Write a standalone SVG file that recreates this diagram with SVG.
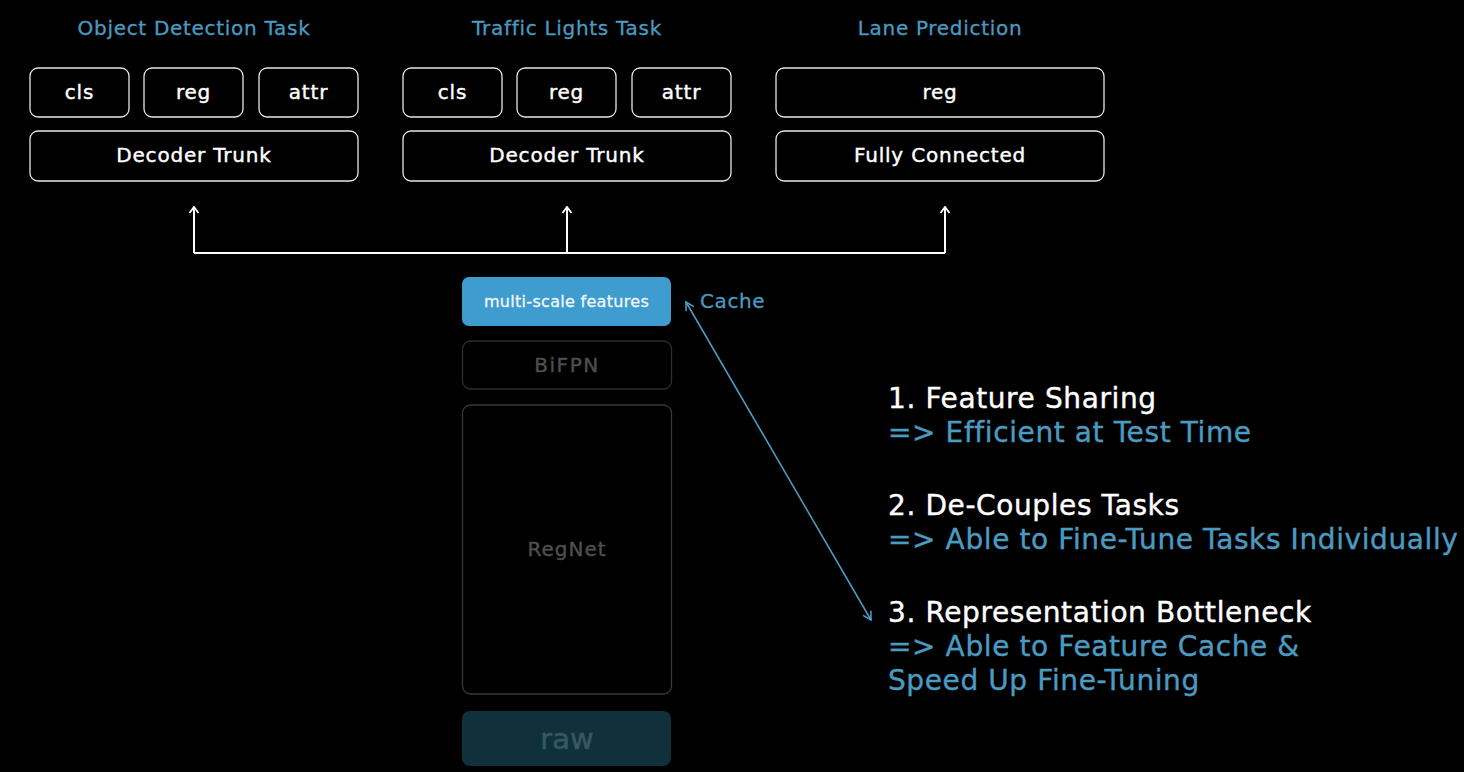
<svg xmlns="http://www.w3.org/2000/svg" width="1464" height="772" viewBox="0 0 1464 772">
<defs>
<style>
text{font-family:"DejaVu Sans","Noto Sans",sans-serif}
.title{fill:#4b9ac0;stroke:#4b9ac0;stroke-width:0.3px;font-size:20px;letter-spacing:0.7px;text-anchor:middle}
.box{fill:#000;stroke:#e6e6e6;stroke-width:1.3}
.lbl{fill:#fff;stroke:#fff;stroke-width:0.4px;font-size:20px;letter-spacing:0.8px;text-anchor:middle}
.conn{stroke:#fff;stroke-width:2;fill:none}
.pt{fill:#fff;stroke:#fff;stroke-width:0.4px;font-size:28px;letter-spacing:0.6px}
.sub{fill:#4b9ac0;stroke:#4b9ac0;stroke-width:0.4px;font-size:28px;letter-spacing:0.6px}
</style>
<marker id="wa" viewBox="0 0 12 12" refX="11" refY="6" markerWidth="12" markerHeight="12" markerUnits="userSpaceOnUse" orient="auto">
<path d="M5,1.5 L11,6 L5,10.5" fill="none" stroke="#fff" stroke-width="1.8"/>
</marker>
<marker id="ba" viewBox="0 0 12 12" refX="11" refY="6" markerWidth="12" markerHeight="12" markerUnits="userSpaceOnUse" orient="auto-start-reverse">
<path d="M3,1.5 L11,6 L3,10.5" fill="none" stroke="#4b9ac0" stroke-width="1.6"/>
</marker>
</defs>
<rect width="1464" height="772" fill="#000"/>

<g id="odt">
<text class="title" x="194" y="35">Object Detection Task</text>
<rect class="box" x="30" y="68" width="99" height="49" rx="8"/><text class="lbl" x="79.5" y="99">cls</text>
<rect class="box" x="144" y="68" width="99" height="49" rx="8"/><text class="lbl" x="193.5" y="99">reg</text>
<rect class="box" x="259" y="68" width="99" height="49" rx="8"/><text class="lbl" x="308.5" y="99">attr</text>
<rect class="box" x="30" y="131" width="328" height="50" rx="8"/><text class="lbl" x="194" y="162">Decoder Trunk</text>
</g>
<g id="tlt">
<text class="title" x="567" y="35">Traffic Lights Task</text>
<rect class="box" x="403" y="68" width="99" height="49" rx="8"/><text class="lbl" x="452.5" y="99">cls</text>
<rect class="box" x="517" y="68" width="99" height="49" rx="8"/><text class="lbl" x="566.5" y="99">reg</text>
<rect class="box" x="632" y="68" width="99" height="49" rx="8"/><text class="lbl" x="681.5" y="99">attr</text>
<rect class="box" x="403" y="131" width="328" height="50" rx="8"/><text class="lbl" x="567" y="162">Decoder Trunk</text>
</g>
<g id="lp">
<text class="title" x="940" y="35">Lane Prediction</text>
<rect class="box" x="776" y="68" width="328" height="49" rx="8"/><text class="lbl" x="940" y="99">reg</text>
<rect class="box" x="776" y="131" width="328" height="50" rx="8"/><text class="lbl" x="940" y="162">Fully Connected</text>
</g>

<g id="connectors">
<path class="conn" d="M194,253 H945"/>
<path class="conn" d="M194,253 V207" marker-end="url(#wa)"/>
<path class="conn" d="M567,253 V207" marker-end="url(#wa)"/>
<path class="conn" d="M945,253 V207" marker-end="url(#wa)"/>
<path d="M686,302 L871,620" stroke="#4b9ac0" stroke-width="1.6" fill="none" marker-start="url(#ba)" marker-end="url(#ba)"/>
</g>

<g id="msf">
<rect x="462" y="277" width="209" height="49" rx="7" fill="#3e9cce"/>
<text x="566.5" y="307" fill="#f2f8fb" stroke="#f2f8fb" stroke-width="0.3" font-size="16" letter-spacing="0.3" text-anchor="middle">multi-scale features</text>
</g>
<text x="700" y="308" fill="#4b9ac0" stroke="#4b9ac0" stroke-width="0.3" font-size="20" letter-spacing="0.6">Cache</text>
<g id="bifpn">
<rect x="462.5" y="341" width="209" height="48" rx="8" fill="#000" stroke="#2e2e2e" stroke-width="1.3"/>
<text x="567" y="372" fill="#4f4f4f" stroke="#4f4f4f" stroke-width="0.4" font-size="20" letter-spacing="1.5" text-anchor="middle">BiFPN</text>
</g>
<g id="regnet">
<rect x="462.5" y="405" width="209" height="289" rx="8" fill="#000" stroke="#383838" stroke-width="1.3"/>
<text x="567" y="556" fill="#4f4f4f" stroke="#4f4f4f" stroke-width="0.4" font-size="20" letter-spacing="1" text-anchor="middle">RegNet</text>
</g>
<g id="raw">
<rect x="462" y="711" width="209" height="55" rx="8" fill="#10303c"/>
<text x="567" y="749" fill="#365862" stroke="#365862" stroke-width="0.5" font-size="29" text-anchor="middle">raw</text>
</g>

<g id="points">
<text class="pt" x="888" y="408">1. Feature Sharing</text>
<text class="sub" x="888" y="442">=&gt; Efficient at Test Time</text>
<text class="pt" x="888" y="515">2. De-Couples Tasks</text>
<text class="sub" x="888" y="549">=&gt; Able to Fine-Tune Tasks Individually</text>
<text class="pt" x="888" y="622">3. Representation Bottleneck</text>
<text class="sub" x="888" y="656">=&gt; Able to Feature Cache &amp;</text>
<text class="sub" x="888" y="690">Speed Up Fine-Tuning</text>
</g>
</svg>
